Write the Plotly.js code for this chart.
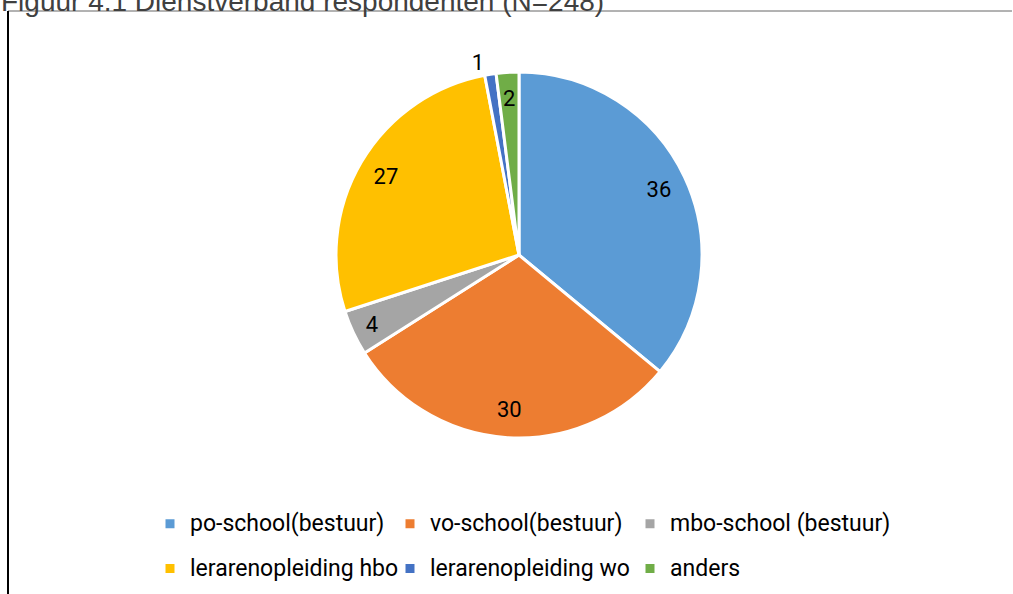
<!DOCTYPE html>
<html><head><meta charset="utf-8">
<script src="https://cdn.plot.ly/plotly-3.0.1.min.js"></script>
<style>html,body{margin:0;padding:0;background:#fff}#chart{width:1013px;height:594px}</style>
</head><body><div id="chart"></div>
<script>
const titleText = 'Figuur 4.1 Dienstverband respondenten (N=248)';
const categories = ['po-school(bestuur)', 'vo-school(bestuur)', 'mbo-school (bestuur)', 'lerarenopleiding hbo', 'lerarenopleiding wo', 'anders'];
const values = [36, 30, 4, 27, 1, 2];
const colors = ['#5B9BD5', '#ED7D31', '#A5A5A5', '#FFC000', '#4472C4', '#70AD47'];
const labelPositions = ['inside', 'inside', 'inside', 'inside', 'outside', 'inside'];

const W = 1013, H = 594, M = {l: 100, r: 100, t: 0, b: 0};
const pw = W - M.l - M.r, ph = H - M.t - M.b;
const px2x = p => (p - M.l) / pw;
const px2y = p => 1 - (p - M.t) / ph;
const cx = 519, cy = 255, R = 183;
const makeDomain = r => ({x: [px2x(cx - r), px2x(cx + r)], y: [px2y(cy + r), px2y(cy - r)]});
const domain = makeDomain(R);
const legendNames = categories.map(c => '<span style="font-size:23px;baseline-shift:5px">' + c + '</span>');
// invisible spacer title, only widens the legend box so the last column is not clipped
const legendSpacer = '&nbsp;'.repeat(340);
// the thin last slice gets its label from a slightly smaller label ring
const smallRingIndex = 5;

const pieSlices = {
  type: 'pie', labels: legendNames, values: values,
  marker: {colors: colors, line: {color: '#ffffff', width: 3}},
  sort: false, direction: 'clockwise', rotation: 0,
  textinfo: 'none', domain: domain, hoverinfo: 'value'
};
const textBase = {
  type: 'pie', labels: legendNames, values: values,
  marker: {colors: values.map(() => 'rgba(0,0,0,0)'), line: {width: 0}},
  sort: false, direction: 'clockwise', rotation: 0,
  textposition: labelPositions, insidetextorientation: 'horizontal',
  textfont: {family: 'Roboto', size: 22, color: '#000000'},
  showlegend: false, hoverinfo: 'skip'
};
const pieText = Object.assign({}, textBase, {
  hole: 0.69, domain: domain,
  texttemplate: values.map((v, i) => i === smallRingIndex ? '' : '%{value}')
});
const pieTextSmall = Object.assign({}, textBase, {
  domain: makeDomain(167),
  texttemplate: values.map((v, i) => i === smallRingIndex ? '%{value}' : '')
});

const layout = {
  width: W, height: H,
  margin: {l: M.l, r: M.r, t: M.t, b: M.b, autoexpand: false},
  paper_bgcolor: '#ffffff', plot_bgcolor: '#ffffff',
  showlegend: true,
  legend: {
    orientation: 'h', x: px2x(150), xanchor: 'left', y: px2y(483.5), yanchor: 'top',
    entrywidth: 195, entrywidthmode: 'pixels',
    font: {family: 'Roboto', size: 32, color: '#000000'},
    title: {text: legendSpacer, side: 'top', font: {family: 'Roboto', size: 10, color: 'rgba(0,0,0,0)'}},
    bgcolor: 'rgba(0,0,0,0)', traceorder: 'normal'
  },
  uniformtext: {mode: 'show', minsize: 22},
  annotations: [{
    text: titleText, xref: 'paper', yref: 'paper', x: px2x(-1), y: 1, yshift: -1.5, xanchor: 'left', yanchor: 'middle',
    showarrow: false, font: {family: 'Liberation Sans, Arial, sans-serif', size: 28, color: '#404040'}
  }],
  shapes: [
    {type: 'line', xref: 'paper', yref: 'paper', x0: px2x(8), x1: px2x(1012), y0: px2y(11), y1: px2y(11), line: {color: '#666666', width: 1}},
    {type: 'line', xref: 'paper', yref: 'paper', x0: px2x(8), x1: px2x(8), y0: px2y(11), y1: px2y(594), line: {color: '#000000', width: 2}}
  ]
};

Plotly.newPlot('chart', [pieSlices, pieText, pieTextSmall], layout, {displayModeBar: false, staticPlot: true});
</script></body></html>
